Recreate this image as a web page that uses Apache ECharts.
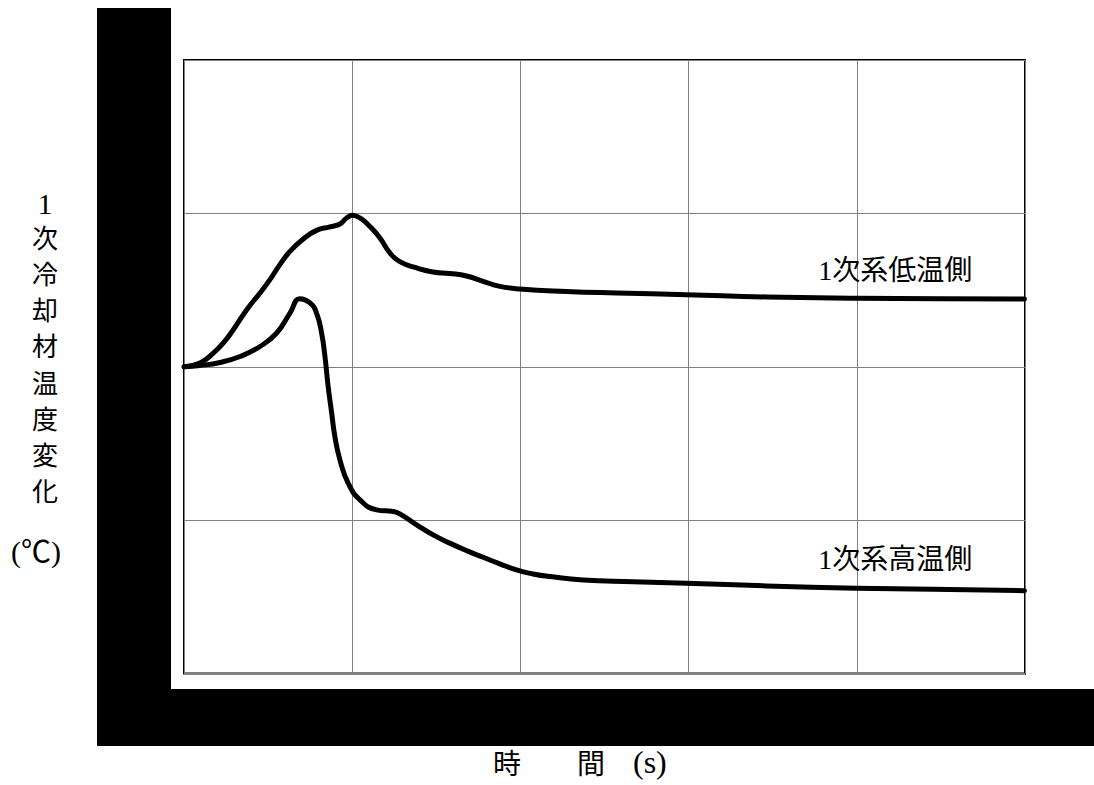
<!DOCTYPE html>
<html>
<head>
<meta charset="utf-8">
<script src="https://cdn.jsdelivr.net/npm/echarts@6/dist/echarts.min.js"></script>
<style>
  html, body { margin: 0; padding: 0; background: #fff; }
  #chart { width: 1094px; height: 785px; }
</style>
</head>
<body>
<div id="chart"></div>
<script>
// Primary coolant temperature response (arbitrary units, time vs. change)
const lowSideTime = [0, 0.95, 1.74, 2.34, 2.93, 3.73, 4.52, 5.11, 5.70, 6.30, 7.09, 7.88, 8.67, 9.27, 9.67, 10.02, 10.46, 11.05, 11.65, 12.24, 12.83, 13.83, 14.80, 15.80, 16.80, 17.78, 18.78, 19.96, 22.74, 25.71, 29.87, 34.62, 39.97, 44.92, 49.97];
const lowSideTemp = [0, 0.24, 0.89, 1.55, 2.41, 3.72, 4.81, 5.68, 6.66, 7.52, 8.33, 8.89, 9.12, 9.31, 9.70, 9.87, 9.70, 9.15, 8.40, 7.42, 6.85, 6.44, 6.18, 6.08, 5.92, 5.57, 5.24, 5.07, 4.91, 4.81, 4.70, 4.55, 4.47, 4.44, 4.42];

const highSideTime = [0, 0.95, 2.14, 3.33, 4.52, 5.51, 6.30, 6.89, 7.49, 7.88, 8.18, 8.38, 8.57, 8.78, 8.97, 9.27, 9.76, 10.46, 11.45, 12.44, 12.83, 13.83, 14.81, 15.80, 16.80, 17.78, 18.78, 19.77, 20.75, 21.75, 23.73, 26.70, 29.87, 34.62, 39.97, 44.50, 49.97];
const highSideTemp = [0, 0.08, 0.28, 0.67, 1.32, 2.20, 3.50, 4.43, 4.16, 3.50, 2.20, 0.67, -1.29, -3.02, -4.55, -6.07, -7.59, -8.68, -9.33, -9.44, -9.59, -10.31, -10.96, -11.50, -11.99, -12.42, -12.85, -13.25, -13.51, -13.68, -13.90, -14.01, -14.11, -14.29, -14.44, -14.51, -14.60];

const seriesNames = ['1次系低温側', '1次系高温側'];
const labelAnchors = [[34.5, 4.55], [34.5, -14.29]];
const yTitleChars = ['1', '次', '冷', '却', '材', '温', '度', '変', '化'];
const yTitleUnit = '(℃)';
const xTitleWords = ['時　　間　', '(s)'];

const FONT = '"Liberation Serif", "Noto Sans CJK JP", serif';

function pairs(xs, ys) { return xs.map((x, i) => [x, ys[i]]); }

const chart = echarts.init(document.getElementById('chart'), null, { renderer: 'svg' });

const curveStyle = { color: '#000', width: 5, cap: 'round', join: 'round' };

chart.setOption({
  animation: false,
  backgroundColor: '#fff',
  grid: {
    left: 184, top: 60, right: 69, bottom: 111.5,
    show: true, borderColor: '#000', borderWidth: 2, backgroundColor: 'transparent'
  },
  xAxis: {
    type: 'value', min: 0, max: 50, interval: 10,
    axisLine: { show: false }, axisTick: { show: false }, axisLabel: { show: false },
    splitLine: { show: true, lineStyle: { color: '#808080', width: 1 } }
  },
  yAxis: {
    type: 'value', min: -20, max: 20, interval: 10,
    axisLine: { show: false }, axisTick: { show: false }, axisLabel: { show: false },
    splitLine: { show: true, lineStyle: { color: '#808080', width: 1 } }
  },
  series: [
    {
      name: seriesNames[0], type: 'line', data: pairs(lowSideTime, lowSideTemp),
      showSymbol: false, smooth: 0.5, lineStyle: curveStyle, z: 5
    },
    {
      name: seriesNames[1], type: 'line', data: pairs(highSideTime, highSideTemp),
      showSymbol: false, smooth: 0.5, lineStyle: curveStyle, z: 5
    }
  ]
});

// Series captions placed just above the curve tails
const captions = seriesNames.map((name, i) => {
  const p = chart.convertToPixel({ gridIndex: 0 }, labelAnchors[i]);
  return {
    type: 'text', x: p[0] + 54, y: p[1] - 12, z: 10,
    style: { text: name, font: '28px ' + FONT, fill: '#000', textAlign: 'left', textVerticalAlign: 'bottom' }
  };
});

// Vertical axis title, one glyph per line
const yTitle = yTitleChars.map((ch, i) => ({
  type: 'text', x: 45, y: 203 + i * 36.2, z: 10,
  style: { text: ch, font: (i === 0 ? '30px ' : '26px ') + FONT, fill: '#000', textAlign: 'center', textVerticalAlign: 'middle' }
}));

chart.setOption({
  graphic: [
    // heavy black frame bars along the left and bottom
    { type: 'rect', shape: { x: 97, y: 8, width: 74, height: 738 }, style: { fill: '#000' }, z: 1 },
    { type: 'rect', shape: { x: 97, y: 689, width: 997, height: 57 }, style: { fill: '#000' }, z: 1 },
    ...yTitle,
    {
      type: 'text', x: 36, y: 551, z: 10,
      style: { text: yTitleUnit, font: '30px ' + FONT, fill: '#000', textAlign: 'center', textVerticalAlign: 'middle' }
    },
    {
      type: 'text', x: 493, y: 764, z: 10,
      style: { text: xTitleWords[0], font: '28px ' + FONT, fill: '#000', textAlign: 'left', textVerticalAlign: 'middle' }
    },
    {
      type: 'text', x: 633, y: 762, z: 10,
      style: { text: xTitleWords[1], font: '32px ' + FONT, fill: '#000', textAlign: 'left', textVerticalAlign: 'middle' }
    },
    ...captions
  ]
});
</script>
</body>
</html>
